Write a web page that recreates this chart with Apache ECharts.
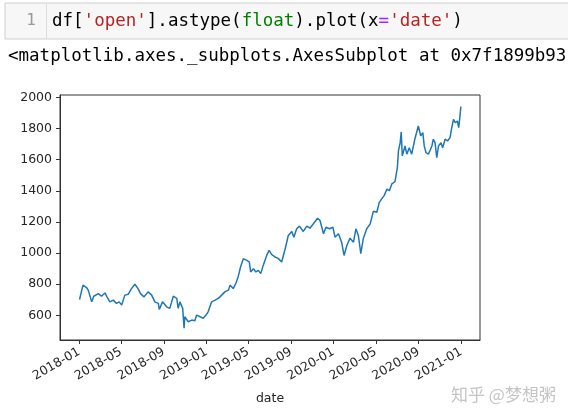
<!DOCTYPE html>
<html>
<head>
<meta charset="utf-8">
<script src="https://cdn.jsdelivr.net/npm/echarts@6/dist/echarts.min.js"></script>
<style>
html,body{margin:0;padding:0;background:#fff;}
#chart{width:568px;height:420px;}
</style>
</head>
<body>
<div id="chart"></div>
<script>
const dates = [
'2018-01-02','2018-01-12','2018-01-22','2018-01-27','2018-02-06','2018-02-12','2018-02-25','2018-03-06','2018-03-16','2018-03-22',
'2018-03-30','2018-04-09','2018-04-18','2018-04-26','2018-05-03','2018-05-12','2018-05-22','2018-05-31','2018-06-10','2018-06-19',
'2018-06-26','2018-07-06','2018-07-18','2018-07-28','2018-08-06','2018-08-16','2018-08-19','2018-08-28','2018-09-09','2018-09-18',
'2018-09-28','2018-10-08','2018-10-12','2018-10-17','2018-10-25','2018-10-29','2018-10-31','2018-11-10','2018-11-20','2018-11-29',
'2018-12-04','2018-12-14','2018-12-23','2018-12-31',
'2019-01-06','2019-01-16','2019-01-26','2019-02-04','2019-02-14','2019-02-23','2019-03-05','2019-03-10','2019-03-19','2019-03-27',
'2019-04-02','2019-04-09','2019-04-17','2019-04-27','2019-05-04','2019-05-08','2019-05-16','2019-05-23','2019-05-30','2019-06-06',
'2019-06-13','2019-06-23','2019-06-30','2019-07-07','2019-07-17','2019-07-26','2019-08-05','2019-08-15','2019-08-24','2019-09-03',
'2019-09-09','2019-09-17','2019-09-25','2019-10-06','2019-10-16','2019-10-25','2019-11-04','2019-11-16','2019-11-23','2019-12-03',
'2019-12-10','2019-12-20','2019-12-30',
'2020-01-05','2020-01-15','2020-01-24','2020-01-31','2020-02-08','2020-02-17','2020-02-27','2020-03-05','2020-03-12','2020-03-19',
'2020-03-26','2020-04-05','2020-04-15','2020-04-24','2020-05-04','2020-05-11','2020-05-18','2020-05-25','2020-06-02','2020-06-09',
'2020-06-16','2020-06-25','2020-07-02','2020-07-05','2020-07-10','2020-07-13','2020-07-16','2020-07-24','2020-07-29','2020-08-05',
'2020-08-12','2020-08-21','2020-08-31','2020-09-07','2020-09-13','2020-09-17','2020-09-22','2020-09-29','2020-10-09','2020-10-13',
'2020-10-18','2020-10-23','2020-10-28','2020-11-04','2020-11-09','2020-11-16','2020-11-23','2020-11-30','2020-12-05','2020-12-10',
'2020-12-15','2020-12-21','2020-12-25','2020-12-29','2020-12-31'
];
const opens = [
702,794,779,762,687,723,740,723,744,719,
687,698,677,687,666,730,736,772,800,772,
740,719,751,730,687,677,638,687,655,645,
723,709,645,687,645,517,591,559,570,566,
602,591,581,602,
623,687,698,709,730,751,762,794,772,808,
847,911,964,953,943,879,900,879,889,868,
921,985,1017,992,975,966,943,1028,1113,1139,
1102,1156,1173,1139,1173,1160,1188,1224,1209,1124,
1166,1156,1166,
1102,1124,1070,985,1049,1096,1070,1156,1113,996,
1092,1156,1188,1268,1262,1326,1348,1369,1411,1401,
1444,1458,1550,1656,1709,1778,1624,1688,1635,1677,
1635,1731,1816,1752,1773,1688,1645,1635,1688,1731,
1709,1613,1688,1709,1677,1731,1720,1741,1805,1859,
1837,1848,1805,1891,1940
];
const xTickLabels = ['2018-01','2018-05','2018-09','2019-01','2019-05','2019-09','2020-01','2020-05','2020-09','2021-01'];
const yTicks = [600,800,1000,1200,1400,1600,1800,2000];

function ts(s){ const p = s.split('-').map(Number); return Date.UTC(p[0], p[1]-1, p[2] || 1); }
const xTicks = xTickLabels.map(ts);
const seriesData = dates.map((d,i) => [ts(d), opens[i]]);

const chart = echarts.init(document.getElementById('chart'), null, {renderer:'canvas'});
const axisColor = '#333';
const textColor = '#262626';
const mono = 'DejaVu Sans Mono';
chart.setOption({
  animation: false,
  backgroundColor: '#fff',
  grid: {left:60, top:95, right:88, bottom:80, show:true, borderColor:axisColor, borderWidth:1, backgroundColor:'transparent'},
  xAxis: {
    type:'value',
    min: ts('2017-11-07'), max: ts('2021-02-24'),
    splitLine:{show:false},
    axisLine:{show:true, lineStyle:{color:axisColor, width:1}},
    axisTick:{show:true, customValues:xTicks, length:4, lineStyle:{color:axisColor}},
    axisLabel:{customValues:xTicks, rotate:30, margin:11, color:textColor, fontSize:12.5, fontFamily:'DejaVu Sans', hideOverlap:false,
      formatter: v => xTickLabels[xTicks.indexOf(v)] || ''},
    name:'date', nameLocation:'middle', nameGap:52,
    nameTextStyle:{color:textColor, fontSize:12.5, fontFamily:'DejaVu Sans'}
  },
  yAxis: {
    type:'value', min:442, max:2015,
    splitLine:{show:false},
    axisLine:{show:true, lineStyle:{color:axisColor, width:1}},
    axisTick:{show:true, customValues:yTicks, length:4, lineStyle:{color:axisColor}},
    axisLabel:{customValues:yTicks, margin:8, color:textColor, fontSize:12.5, fontFamily:'DejaVu Sans',
      formatter: v => String(v)}
  },
  series: [{
    type:'line', data:seriesData, showSymbol:false, symbol:'none',
    lineStyle:{color:'#1f77b4', width:1.5}, itemStyle:{color:'#1f77b4'}
  }],
  graphic: [
    {type:'rect', shape:{x:5, y:3, width:600, height:36}, style:{fill:'#f7f7f7', stroke:'#cfcfcf', lineWidth:1}, z:1},
    {type:'line', shape:{x1:46.5, y1:3, x2:46.5, y2:39}, style:{stroke:'#dddddd', lineWidth:1}, z:2},
    {type:'text', x:36, y:21, style:{text:'1', fill:'#999999', font:'16px "DejaVu Sans Mono"', align:'right', verticalAlign:'middle'}, z:3},
    {type:'text', x:52, y:21, style:{
      text:"{k|df[}{s|'open'}{k|].astype(}{b|float}{k|).plot(x}{o|=}{s|'date'}{k|)}",
      verticalAlign:'middle',
      rich:{
        k:{fill:'#000000', fontFamily:mono, fontSize:17.5},
        s:{fill:'#ba2121', fontFamily:mono, fontSize:17.5},
        b:{fill:'#008000', fontFamily:mono, fontSize:17.5},
        o:{fill:'#aa22ff', fontFamily:mono, fontSize:17.5}
      }
    }, z:3},
    {type:'text', x:8, y:56, style:{text:'<matplotlib.axes._subplots.AxesSubplot at 0x7f1899b93cd0>', fill:'#000000', font:'17.5px "DejaVu Sans Mono"', verticalAlign:'middle'}, z:3},
    {type:'text', x:451, y:395, style:{text:'知乎 @梦想粥', fill:'#c4c4c4', font:'17px "Noto Sans CJK SC"', verticalAlign:'middle'}, z:3}
  ]
});
</script>
</body>
</html>
